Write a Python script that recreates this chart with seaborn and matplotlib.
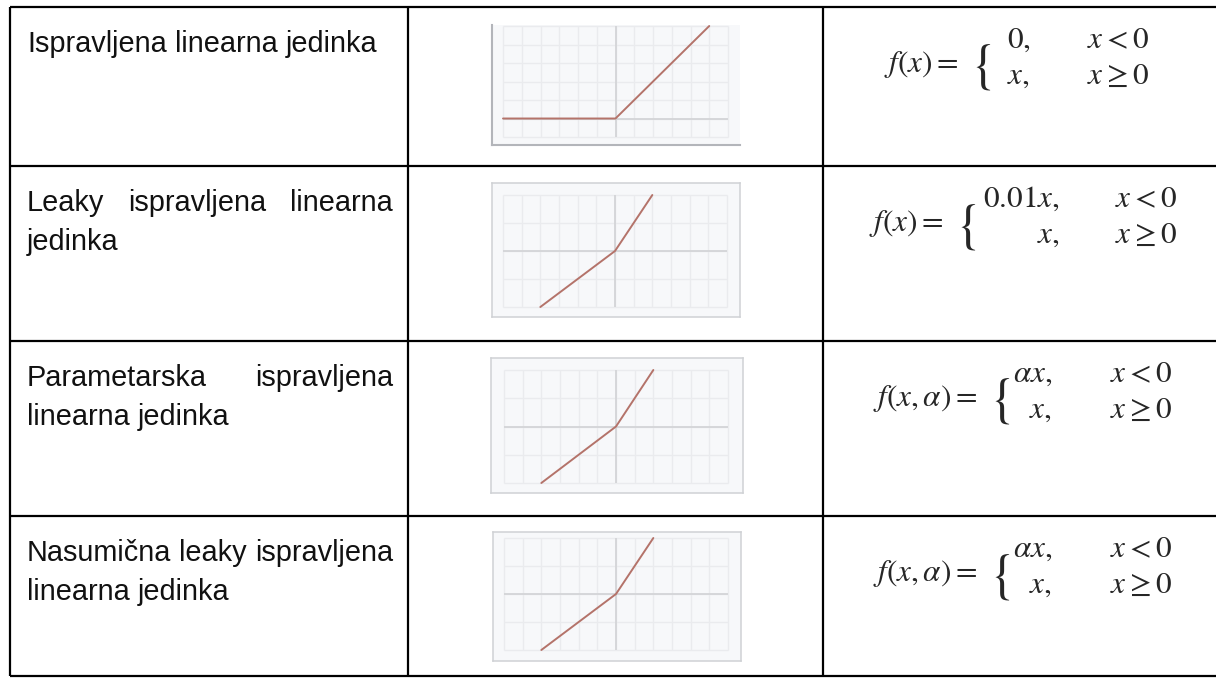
import numpy as np
import matplotlib.pyplot as plt
import seaborn as sns

sns.set_theme(style="white")
plt.rcParams["font.family"] = ["Liberation Sans", "DejaVu Sans"]
plt.rcParams["mathtext.fontset"] = "stix"

# ---- content ----
row_labels = [
    ["Ispravljena linearna jedinka"],
    ["Leaky ispravljena linearna", "jedinka"],
    ["Parametarska ispravljena", "linearna jedinka"],
    ["Nasumična leaky ispravljena", "linearna jedinka"],
]

relu_x = [-6, 0, 5]
relu_y = [0, 0, 5]
leaky_x = [-4, 0, 2]
leaky_y = [-2, 0, 2]
curves = [(relu_x, relu_y), (leaky_x, leaky_y), (leaky_x, leaky_y), (leaky_x, leaky_y)]
grid_x = (-6, 6)
grid_y = [(-1, 5), (-2, 2), (-2, 2), (-2, 2)]

lhs = [r"$f(x) =$", r"$f(x) =$", r"$f(x,\alpha) =$", r"$f(x,\alpha) =$"]
case_vals = [
    [r"$0,$", r"$x,$"],
    [r"$0.01x,$", r"$x,$"],
    [r"$\alpha x,$", r"$x,$"],
    [r"$\alpha x,$", r"$x,$"],
]
case_conds = [r"$x < 0$", r"$x \geq 0$"]

# ---- layout (pixels) ----
W, H = 1216, 679
ROW_TOPS = [7, 166, 341, 516, 676]
COL_X = [10, 408, 823]
TEXT_L, TEXT_R = 27, 393
LABEL_FS = 20.8
MATH_FS = 22.5

frames = [(492, 25, 740, 145), (492, 183, 740, 317), (491, 358, 743, 493), (493, 532, 741, 661)]
grids = [(503, 26, 728, 137), (503, 195, 727, 307), (504, 370, 728, 483), (504, 538, 728, 650)]

# formula positions: brace x, value x, value align, cond x
fpos = [
    (970, 1007, "left", 1087),
    (955, 1060, "right", 1115),
    (989, 1052, "right", 1110),
    (989, 1052, "right", 1110),
]

LINE_COL = "#b4736a"

fig = plt.figure(figsize=(W / 100, H / 100), dpi=100)
fig.patch.set_facecolor("white")
bg = fig.add_axes([0, 0, 1, 1])
bg.set_xlim(0, W)
bg.set_ylim(H, 0)
bg.axis("off")

# table borders
for y in ROW_TOPS:
    bg.plot([COL_X[0], W], [y, y], color="black", lw=1.6, solid_capstyle="butt")
for x in COL_X:
    bg.plot([x, x], [ROW_TOPS[0], ROW_TOPS[-1]], color="black", lw=1.6, solid_capstyle="butt")

renderer = fig.canvas.get_renderer()
space_w = LABEL_FS * 100 / 72 * 0.278

# row labels, justified like the source document
for i, lines in enumerate(row_labels):
    for j, line in enumerate(lines):
        y = ROW_TOPS[i] + 45 + j * 39
        words = line.split(" ")
        arts = [bg.text(0, y, w, fontsize=LABEL_FS, va="baseline", ha="left",
                        color="#111111") for w in words]
        widths = [a.get_window_extent(renderer).width for a in arts]
        justify = j < len(lines) - 1 and len(words) > 1
        gap = (TEXT_R - TEXT_L - sum(widths)) / (len(words) - 1) if justify else space_w
        x = TEXT_L
        for a, w in zip(arts, widths):
            a.set_x(x)
            x += w + gap

# formulas
for i in range(4):
    top = ROW_TOPS[i]
    bx, vx, valign, cx = fpos[i]
    bg.text(bx - 12, top + 65, lhs[i], fontsize=MATH_FS, va="baseline", ha="right")
    bg.text(bx, top + 60, r"$\{$", fontsize=MATH_FS * 1.75, va="center", ha="left")
    for k in range(2):
        yb = top + 41 + k * 36
        bg.text(vx, yb, case_vals[i][k], fontsize=MATH_FS, va="baseline", ha=valign)
        bg.text(cx, yb, case_conds[k], fontsize=MATH_FS, va="baseline", ha="left")

# mini activation plots
for i in range(4):
    l, t, r, b = frames[i]
    gl, gt, gr, gb = grids[i]
    x0, x1 = grid_x
    y0, y1 = grid_y[i]
    ax = fig.add_axes([l / W, 1 - b / H, (r - l) / W, (b - t) / H])
    sx = (gr - gl) / (x1 - x0)
    sy = (gb - gt) / (y1 - y0)
    ax.set_xlim(x0 - (gl - l) / sx, x1 + (r - gr) / sx)
    ax.set_ylim(y0 - (b - gb) / sy, y1 + (gt - t) / sy)
    ax.set_facecolor("#f7f8fa")
    ax.vlines(np.arange(x0, x1 + 1), y0, y1, color="#eaebee", lw=1.0, zorder=1)
    ax.hlines(np.arange(y0, y1 + 1), x0, x1, color="#eaebee", lw=1.0, zorder=1)
    ax.vlines(0, y0, y1, color="#d3d4d7", lw=1.3, zorder=1)
    ax.hlines(0, x0, x1, color="#d3d4d7", lw=1.3, zorder=1)
    cx_, cy_ = curves[i]
    sns.lineplot(x=cx_, y=cy_, ax=ax, color=LINE_COL, lw=1.4, sort=False,
                 estimator=None, zorder=3)
    ax.set_xticks([])
    ax.set_yticks([])
    ax.set_xlabel("")
    ax.set_ylabel("")
    for side, sp in ax.spines.items():
        sp.set_visible(True)
        sp.set_color("#cfd1d5")
        sp.set_linewidth(1.1)
    if i == 0:
        ax.spines["top"].set_visible(False)
        ax.spines["right"].set_visible(False)
        ax.spines["left"].set_color("#b3b5ba")
        ax.spines["bottom"].set_color("#b3b5ba")
        ax.spines["left"].set_linewidth(1.5)
        ax.spines["bottom"].set_linewidth(1.5)

fig.savefig("out.png", dpi=100)
